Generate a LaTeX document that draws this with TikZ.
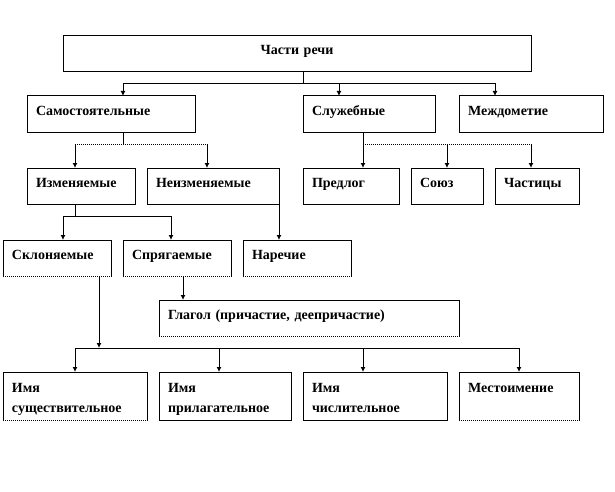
\documentclass[tikz,border=0pt]{standalone}
\usepackage{fontspec}
\setmainfont{Liberation Serif}
\usetikzlibrary{arrows.meta}

\tikzset{
  box/.style={draw, anchor=north west, outer sep=0pt, inner xsep=9pt, inner ysep=0pt,
    text width={#1-18pt}, align=left, text height=19pt, text depth=17pt,
    font=\fontsize{14}{20}\selectfont\bfseries},
  tall/.style={box={#1}, text height=20pt, text depth=28pt},
  head/.style={box={#1}, align=center},
  arr/.style={-{Latex[length=5pt,width=5pt]}},
  dots/.style={dash pattern=on 1pt off 1pt},
}

\begin{document}
\begin{tikzpicture}[x=1pt, y=-1pt, line width=1pt]
    \useasboundingbox (0,0) rectangle (615,492);
    % boxes
    \node[head=468pt] (parts) at (63,36) {Части речи};
    \node[box=168pt] (samost) at (27,96) {Самостоятельные};
    \node[box=132pt] (sluzh) at (303,96) {Служебные};
    \node[box=144pt] (mezhd) at (459,96) {Междометие};
    \node[box=108pt] (izm) at (27,168) {Изменяемые};
    \node[box=132pt] (neizm) at (147,168) {Неизменяемые};
    \node[box=96pt] (predlog) at (303,168) {Предлог};
    \node[box=72pt] (soyuz) at (411,168) {Союз};
    \node[box=84pt] (chast) at (495,168) {Частицы};
    \node[box=108pt] (sklon) at (3,240) {Склоняемые};
    \node[box=108pt] (spryag) at (123,240) {Спрягаемые};
    \node[box=108pt] (narech) at (243,240) {Наречие};
    \node[box=300pt] (glagol) at (159,300) {Глагол (причастие, деепричастие)};
    \node[tall=144pt] (sush) at (3,372) {Имя\\существительное};
    \node[tall=132pt] (pril) at (159,372) {Имя\\прилагательное};
    \node[tall=144pt] (chisl) at (303,372) {Имя\\числительное};
    \node[tall=120pt] (mest) at (459,372) {Местоимение};

    \foreach \n in {sklon,spryag,narech,glagol,sush,mest} {
        \draw[white, line width=1.5pt] ([xshift=.5pt]\n.south west) -- ([xshift=-.5pt]\n.south east);
        \draw[dots] (\n.south west) -- (\n.south east);
    }

    % Части речи
    \coordinate (b0) at (303,84);
    \draw (parts.south -| b0) -- (b0);
    \foreach \n/\dx in {samost/96, sluzh/36, mezhd/36}
        \draw[arr] (b0) -| ([xshift=\dx pt]\n.north west);

    % Самостоятельные
    \coordinate (b1) at (123,144);
    \coordinate (izm-in) at ([xshift=48pt]izm.north west);
    \coordinate (neizm-in) at ([xshift=60pt]neizm.north west);
    \draw ([xshift=96pt]samost.south west) -- (b1);
    \draw[dots] (b1 -| izm-in) -- (b1 -| neizm-in);
    \draw[arr] (b1 -| izm-in) -- (izm-in);
    \draw[arr] (b1 -| neizm-in) -- (neizm-in);

    % Служебные
    \coordinate (b2) at (363,144);
    \coordinate (soyuz-in) at ([xshift=36pt]soyuz.north west);
    \coordinate (chast-in) at ([xshift=36pt]chast.north west);
    \draw[arr] ([xshift=60pt]sluzh.south west) -- ([xshift=60pt]predlog.north west);
    \draw[dots] (b2) -- (b2 -| chast-in);
    \draw[arr] (b2 -| soyuz-in) -- (soyuz-in);
    \draw[arr] (b2 -| chast-in) -- (chast-in);

    % Изменяемые
    \coordinate (b3) at (75,216);
    \draw ([xshift=48pt]izm.south west) -- (b3);
    \foreach \n/\dx in {sklon/60, spryag/48}
        \draw[arr] (b3) -| ([xshift=\dx pt]\n.north west);

    % Неизменяемые, Спрягаемые
    \draw[arr] (neizm.south east) -- (neizm.south east |- narech.north);
    \coordinate (spryag-out) at ([xshift=60pt]spryag.south west);
    \draw[arr] (spryag-out) -- (spryag-out |- glagol.north);

    % Склоняемые
    \coordinate (b4) at (99,348);
    \draw[arr] ([xshift=96pt]sklon.south west) -- (b4);
    \foreach \n/\dx in {sush/72, pril/60, chisl/60, mest/60}
        \draw[arr] (b4) -| ([xshift=\dx pt]\n.north west);
\end{tikzpicture}
\end{document}
